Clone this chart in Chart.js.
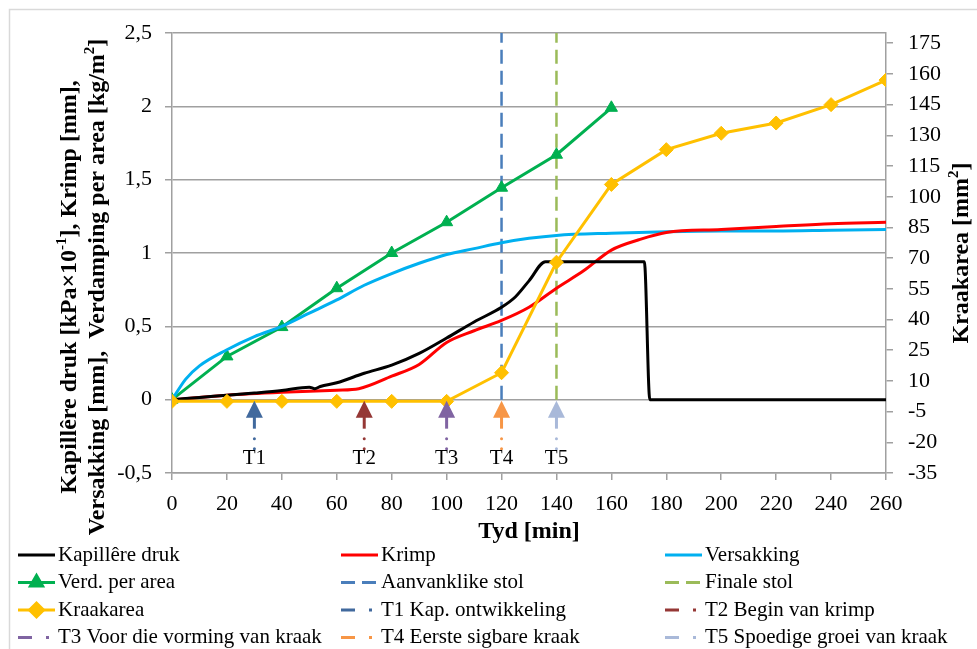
<!DOCTYPE html>
<html>
<head>
<meta charset="utf-8">
<script src="https://cdn.jsdelivr.net/npm/chart.js@4/dist/chart.umd.min.js"></script>
<style>
html,body{margin:0;padding:0;background:#fff}
</style>
</head>
<body>
<canvas id="c" width="977" height="649"></canvas>
<script>
// tyd (min) en waardes, afgelees van die grafiek
const kapX=[0,10,20,30,40,50,52,54,60,70,80,90,100,110,120,125,130,136,172,174,260];
const kapY=[0,0.015,0.03,0.045,0.062,0.085,0.075,0.09,0.115,0.18,0.235,0.315,0.42,0.53,0.63,0.70,0.81,0.94,0.94,0,0];

const krimpX=[0,20,40,60,68,80,90,100,110,120,130,140,150,160,170,180,200,220,240,260];
const krimpY=[0,0.03,0.05,0.065,0.075,0.16,0.24,0.39,0.47,0.54,0.63,0.76,0.88,1.02,1.09,1.14,1.16,1.18,1.2,1.21];

const versX=[0,5,10,20,30,40,50,60,70,80,90,100,110,120,130,140,160,180,200,220,240,260];
const versY=[0,0.14,0.23,0.34,0.43,0.5,0.59,0.68,0.78,0.86,0.93,0.99,1.03,1.07,1.1,1.12,1.135,1.145,1.15,1.15,1.155,1.16];

const verdX=[0,20,40,60,80,100,120,140,160];
const verdY=[0,0.295,0.495,0.76,1.0,1.21,1.445,1.67,1.99];

const kraakX=[0,20,40,60,80,100,120,140,160,180,200,220,240,260];
const kraakY=[0,0,0,0,0,0,14,68,106,123,131,136,145,157];

const stolX=[120,140];
const stolTop=2.5;

const tX=[30,70,100,120,140];
const tTags=["T1","T2","T3","T4","T5"];
const tNames=["T1 Kap. ontwikkeling","T2 Begin van krimp","T3 Voor die vorming van kraak","T4 Eerste sigbare kraak","T5 Spoedige groei van kraak"];
const tColors=["#41699d","#953735","#8064a2","#f79646","#a9b9d9"];

const rightTicks=[-35,-20,-5,10,25,40,55,70,85,100,115,130,145,160,175];

const serif='"Liberation Serif","Times New Roman",serif';
const pts=(xs,ys)=>xs.map((x,i)=>({x:x,y:ys[i]}));

const datasets=[
{label:"Kapillêre druk",data:pts(kapX,kapY),borderColor:"#000",borderWidth:3,pointRadius:0,cubicInterpolationMode:"monotone"},
{label:"Krimp",data:pts(krimpX,krimpY),borderColor:"#ff0000",borderWidth:3,pointRadius:0,cubicInterpolationMode:"monotone"},
{label:"Versakking",data:pts(versX,versY),borderColor:"#00b0f0",borderWidth:3,pointRadius:0,cubicInterpolationMode:"monotone"},
{label:"Verd. per area",data:pts(verdX,verdY),borderColor:"#00b050",backgroundColor:"#00b050",borderWidth:3,pointStyle:"triangle",pointRadius:7,pointBorderWidth:1},
{label:"Aanvanklike stol",data:[{x:stolX[0],y:0},{x:stolX[0],y:stolTop}],borderColor:"#4a7ebb",borderWidth:2.5,borderDash:[14,7],pointRadius:0},
{label:"Finale stol",data:[{x:stolX[1],y:0},{x:stolX[1],y:stolTop}],borderColor:"#9bbb59",borderWidth:2.5,borderDash:[14,7],pointRadius:0},
{label:"Kraakarea",data:pts(kraakX,kraakY),yAxisID:"y2",borderColor:"#ffc000",backgroundColor:"#ffc000",borderWidth:3,pointStyle:"rectRot",pointRadius:7,pointBorderWidth:1,order:-1}
];
tX.forEach((x,i)=>{
datasets.push({label:tNames[i],tag:tTags[i],arrow:true,data:[{x:x,y:0}],borderColor:tColors[i],backgroundColor:tColors[i],showLine:false,pointRadius:0});
});

// wit agtergrond en buiterand
const bg={id:"bg",beforeDraw(c){
const x=c.ctx;
x.save();
x.fillStyle="#fff";x.fillRect(0,0,c.width,c.height);
x.strokeStyle="#d9d9d9";x.lineWidth=1.5;
x.beginPath();x.moveTo(9.5,c.height);x.lineTo(9.5,9.5);x.lineTo(c.width,9.5);x.stroke();
x.restore();
}};

// pyltjies T1..T5
const arrows={id:"arrows",afterDatasetsDraw(c){
const ctx=c.ctx;
c.data.datasets.forEach((ds,i)=>{
if(!ds.arrow) return;
const p=c.getDatasetMeta(i).data[0];
const x=p.x,y=p.y;
ctx.save();
ctx.fillStyle=ds.borderColor;ctx.strokeStyle=ds.borderColor;
ctx.beginPath();ctx.moveTo(x,y+1);ctx.lineTo(x+8.5,y+18);ctx.lineTo(x-8.5,y+18);ctx.closePath();ctx.fill();
ctx.lineWidth=3;ctx.beginPath();ctx.moveTo(x,y+17);ctx.lineTo(x,y+29);ctx.stroke();
[39,49].forEach(d=>{ctx.beginPath();ctx.arc(x,y+d,1.5,0,Math.PI*2);ctx.fill();});
ctx.fillStyle="#000";ctx.font="21px "+serif;ctx.textAlign="center";ctx.textBaseline="middle";
ctx.fillText(ds.tag,x,y+59);
ctx.restore();
});
}};

function richText(ctx,segs,cx,cy){
const big="bold 24px "+serif,small="bold 15px "+serif;
let w=0;
segs.forEach(s=>{ctx.font=s.sup?small:big;w+=ctx.measureText(s.t).width;});
let x=cx-w/2;
segs.forEach(s=>{
ctx.font=s.sup?small:big;
ctx.fillText(s.t,x,s.sup?cy-8:cy);
x+=ctx.measureText(s.t).width;
});
}

// as-titels
const titles={id:"titles",afterDraw(c){
const ctx=c.ctx,a=c.chartArea;
ctx.save();
ctx.fillStyle="#000";ctx.textAlign="left";ctx.textBaseline="middle";
ctx.save();ctx.translate(70,287);ctx.rotate(-Math.PI/2);
richText(ctx,[{t:"Kapillêre druk [kPa×10"},{t:"-1",sup:true},{t:"], Krimp [mm],"}],0,0);
ctx.restore();
ctx.save();ctx.translate(98,287);ctx.rotate(-Math.PI/2);
richText(ctx,[{t:"Versakking [mm],  Verdamping per area [kg/m"},{t:"2",sup:true},{t:"]"}],0,0);
ctx.restore();
ctx.save();ctx.translate(962,253);ctx.rotate(-Math.PI/2);
richText(ctx,[{t:"Kraakarea [mm"},{t:"2",sup:true},{t:"]"}],0,0);
ctx.restore();
richText(ctx,[{t:"Tyd [min]"}],(a.left+a.right)/2,532);
ctx.restore();
}};

// legende in drie kolomme
const legend={id:"legend3",afterDraw(c){
const ctx=c.ctx;
const colX=[18,341,665];
ctx.save();
c.data.datasets.forEach((ds,i)=>{
const x0=colX[i%3],y=555+Math.floor(i/3)*27.5;
ctx.strokeStyle=ds.borderColor;ctx.lineWidth=3;
if(ds.arrow) ctx.setLineDash([14,14,3,20]);
else if(ds.borderDash) ctx.setLineDash([14,7]);
else ctx.setLineDash([]);
ctx.beginPath();ctx.moveTo(x0,y);ctx.lineTo(x0+37,y);ctx.stroke();
ctx.setLineDash([]);
if(ds.pointStyle){
ctx.fillStyle=ds.backgroundColor;
Chart.helpers.drawPoint(ctx,{pointStyle:ds.pointStyle,radius:7,rotation:0,borderWidth:1},x0+18.5,y);
}
ctx.fillStyle="#000";ctx.font="21px "+serif;ctx.textAlign="left";ctx.textBaseline="middle";
ctx.fillText(ds.label,x0+40,y);
});
ctx.restore();
}};

const axisGrey="#a0a0a0";
const tickFont={family:serif,size:22};

new Chart(document.getElementById("c"),{
type:"line",
data:{datasets:datasets},
options:{
responsive:false,animation:false,
layout:{padding:{top:33,left:0,right:0,bottom:0}},
plugins:{legend:{display:false},tooltip:{enabled:false}},
scales:{
x:{type:"linear",min:0,max:260,
ticks:{stepSize:20,font:tickFont,color:"#000",padding:11,maxRotation:0},
grid:{drawOnChartArea:false,tickLength:7,color:axisGrey,lineWidth:1.5},
border:{color:axisGrey,width:1.5},
afterFit(s){s.height=176;}},
y:{min:-0.5,max:2.5,
ticks:{stepSize:0.5,font:tickFont,color:"#000",padding:13,callback:v=>String(v).replace(".",",")},
grid:{color:axisGrey,lineWidth:1.5,tickLength:7},
border:{color:axisGrey,width:1.5},
afterFit(s){s.width=172;}},
y2:{position:"right",min:-35,max:180,
afterBuildTicks(s){s.ticks=rightTicks.map(v=>({value:v}));},
ticks:{font:tickFont,color:"#000",padding:15},
grid:{drawOnChartArea:false,tickLength:7,color:axisGrey,lineWidth:1.5},
border:{color:axisGrey,width:1.5},
afterFit(s){s.width=91;}}
}
},
plugins:[bg,arrows,titles,legend]
});
</script>
</body>
</html>
